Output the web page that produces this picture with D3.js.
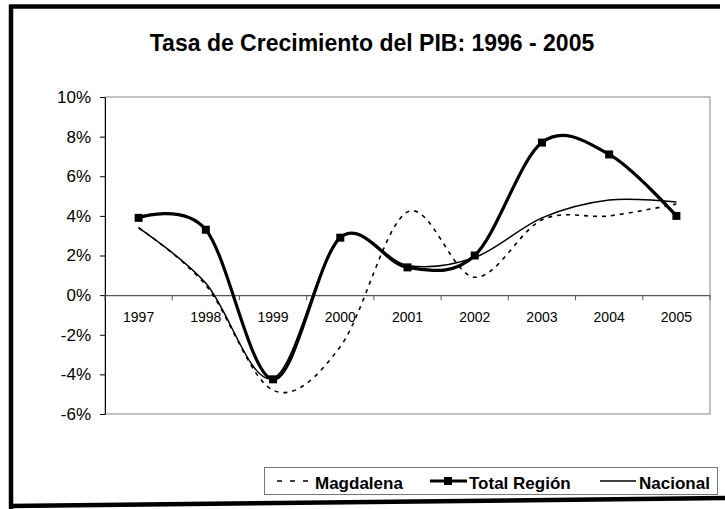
<!DOCTYPE html>
<html lang="es">
<head>
<meta charset="UTF-8">
<title>Tasa de Crecimiento del PIB: 1996 - 2005</title>
<script src="https://cdnjs.cloudflare.com/ajax/libs/d3/7.8.5/d3.min.js"></script>
<style>
  body { margin: 0; background: #fff; }
  svg { display: block; font-family: Arial, "Liberation Sans", sans-serif; }
</style>
</head>
<body>
<div id="chart"></div>
<script>
// values (%)
const years = ["1997", "1998", "1999", "2000", "2001", "2002", "2003", "2004", "2005"];
const magdalena = [3.4, 0.5, -4.8, -2.6, 4.2, 0.9, 3.8, 4.0, 4.6];
const totalRegion = [3.9, 3.3, -4.25, 2.9, 1.4, 2.0, 7.7, 7.1, 4.0];
const nacional = [3.4, 0.6, -4.2, 2.9, 1.5, 1.9, 3.9, 4.8, 4.7];
const yTicks = [-6, -4, -2, 0, 2, 4, 6, 8, 10];

const width = 725, height = 509;
const plot = { left: 105, right: 710, top: 97, bottom: 414 };

const svg = d3.select("#chart").append("svg")
    .attr("width", width)
    .attr("height", height);

// outer frame (top, left, bottom only)
const frame = svg.append("g").attr("stroke", "#000").attr("stroke-width", 4.5);
frame.append("line").attr("x1", 9).attr("x2", 720).attr("y1", 6.5).attr("y2", 6.5);
frame.append("line").attr("x1", 11).attr("x2", 11).attr("y1", 5).attr("y2", 509);
frame.append("line").attr("x1", 9).attr("x2", 725).attr("y1", 506).attr("y2", 498);

svg.append("text")
    .attr("x", 372)
    .attr("y", 51)
    .attr("text-anchor", "middle")
    .style("font-size", "23px")
    .style("font-weight", "bold")
    .text("Tasa de Crecimiento del PIB: 1996 - 2005");

const x = d3.scaleBand().domain(years).range([plot.left, plot.right]);
const y = d3.scaleLinear().domain([-6, 10]).range([plot.bottom, plot.top]);

// plot area border
svg.append("rect")
    .attr("x", plot.left)
    .attr("y", plot.top)
    .attr("width", plot.right - plot.left)
    .attr("height", plot.bottom - plot.top)
    .attr("fill", "none")
    .attr("stroke", "#999")
    .attr("stroke-width", 1.2);

// y axis
const yAxis = svg.append("g")
    .attr("transform", `translate(${plot.left},0)`)
    .call(d3.axisLeft(y).tickValues(yTicks).tickSize(5).tickSizeOuter(0).tickPadding(9)
        .tickFormat(d => d + "%"));
yAxis.selectAll("text").style("font-size", "17px").attr("fill", "#000");
yAxis.selectAll("line, path").attr("stroke", "#000");

// x axis on the zero line, ticks between categories
const xAxis = svg.append("g")
    .attr("transform", `translate(0,${y(0)})`)
    .call(d3.axisBottom(x).tickSize(0).tickPadding(17));
xAxis.select(".domain").attr("stroke", "#555").attr("stroke-width", 1.2);
xAxis.selectAll("text").style("font-size", "14px").attr("fill", "#000");
xAxis.selectAll(".sep")
    .data(years.map(d => x(d)).concat([plot.right]))
    .enter().append("line")
    .attr("class", "sep")
    .attr("x1", d => d).attr("x2", d => d)
    .attr("y1", 0).attr("y2", 5)
    .attr("stroke", "#555");

const cx = i => x(years[i]) + x.bandwidth() / 2;
const line = d3.line()
    .x((d, i) => cx(i))
    .y(d => y(d))
    .curve(d3.curveCardinal.tension(0));

svg.append("path")
    .attr("d", line(magdalena))
    .attr("fill", "none")
    .attr("stroke", "#000")
    .attr("stroke-width", 1.6)
    .attr("stroke-dasharray", "4,5");

svg.append("path")
    .attr("d", line(totalRegion))
    .attr("fill", "none")
    .attr("stroke", "#000")
    .attr("stroke-width", 3.2);

svg.selectAll(".mk")
    .data(totalRegion)
    .enter().append("rect")
    .attr("class", "mk")
    .attr("x", (d, i) => cx(i) - 4)
    .attr("y", d => y(d) - 4)
    .attr("width", 8)
    .attr("height", 8)
    .attr("fill", "#000");

svg.append("path")
    .attr("d", line(nacional))
    .attr("fill", "none")
    .attr("stroke", "#000")
    .attr("stroke-width", 1.5);

// legend
const legend = svg.append("g");
legend.append("rect")
    .attr("x", 264.5).attr("y", 467.5)
    .attr("width", 453).attr("height", 27)
    .attr("fill", "#fff")
    .attr("stroke", "#777");

const ly = 481;
legend.append("line")
    .attr("x1", 277).attr("x2", 310).attr("y1", ly).attr("y2", ly)
    .attr("stroke", "#000").attr("stroke-width", 1.6).attr("stroke-dasharray", "5,8");
legend.append("line")
    .attr("x1", 430).attr("x2", 467).attr("y1", ly).attr("y2", ly)
    .attr("stroke", "#000").attr("stroke-width", 3.2);
legend.append("rect")
    .attr("x", 444).attr("y", ly - 4).attr("width", 8).attr("height", 8).attr("fill", "#000");
legend.append("line")
    .attr("x1", 600).attr("x2", 636).attr("y1", ly).attr("y2", ly)
    .attr("stroke", "#000").attr("stroke-width", 1.5);

const labels = [["Magdalena", 315], ["Total Región", 469], ["Nacional", 639]];
labels.forEach(([t, lx]) => {
    legend.append("text")
        .attr("x", lx).attr("y", 489)
        .style("font-size", "17px")
        .style("font-weight", "bold")
        .text(t);
});
</script>
</body>
</html>
